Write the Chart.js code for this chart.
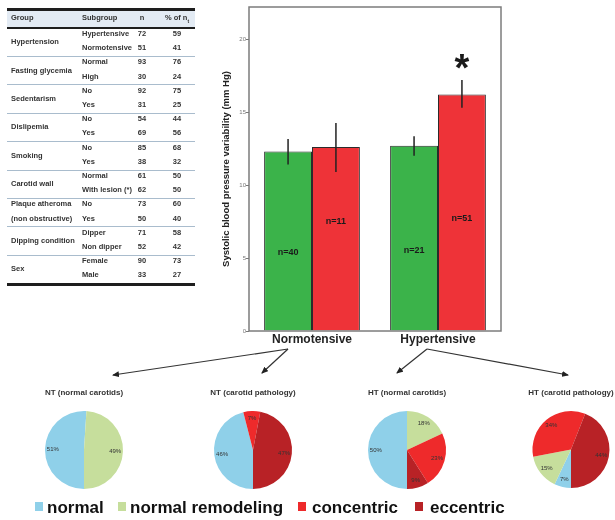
<!DOCTYPE html>
<html>
<head>
<meta charset="utf-8">
<script src="https://cdn.jsdelivr.net/npm/chart.js@4.4.1/dist/chart.umd.min.js"></script>
<style>
  body { margin: 0; width: 615px; height: 520px; position: relative; overflow: hidden; background: #fff;
         font-family: "Liberation Sans", Arial, sans-serif; }
  .abs { position: absolute; }
  #table, #legend { position: absolute; left: 0; top: 0; transform: translateZ(0); }
  .cell { position: absolute; font-size: 7.5px; font-weight: bold; color: #333; line-height: 8px; white-space: nowrap; }
  .hline { position: absolute; left: 7px; width: 188px; }
  .leg { position: absolute; top: 498px; font-size: 17px; font-weight: bold; line-height: 20px; color: #111; white-space: nowrap; }
  .sw { position: absolute; top: 502px; width: 8px; height: 9px; }
</style>
</head>
<body>
<div id="table"></div>
<canvas id="bars" class="abs" style="left:215px;top:0px" width="300" height="350"></canvas>
<svg class="abs" style="left:0;top:0" width="615" height="520">
  <defs>
    <marker id="ah" markerUnits="userSpaceOnUse" markerWidth="7" markerHeight="6" refX="6" refY="3" orient="auto">
      <path d="M0,0 L7,3 L0,6 z" fill="#222"/>
    </marker>
  </defs>
  <g stroke="#333" stroke-width="1.2" fill="none">
    <line x1="288" y1="349" x2="113" y2="375" marker-end="url(#ah)"/>
    <line x1="288" y1="349" x2="262" y2="373" marker-end="url(#ah)"/>
    <line x1="427" y1="349" x2="397" y2="373" marker-end="url(#ah)"/>
    <line x1="427" y1="349" x2="568" y2="375" marker-end="url(#ah)"/>
  </g>
</svg>
<canvas id="pie0" class="abs" style="left:9px;top:386px" width="150" height="105"></canvas>
<canvas id="pie1" class="abs" style="left:178px;top:386px" width="150" height="105"></canvas>
<canvas id="pie2" class="abs" style="left:332px;top:386px" width="150" height="105"></canvas>
<canvas id="pie3" class="abs" style="left:496px;top:386px" width="150" height="105"></canvas>
<div id="legend"></div>
<script>
Chart.defaults.font.family = '"Liberation Sans", Arial, sans-serif';

// table
const tableGroups = ['Hypertension', 'Fasting glycemia', 'Sedentarism', 'Dislipemia', 'Smoking',
  'Carotid wall', 'Plaque atheroma|(non obstructive)', 'Dipping condition', 'Sex'];
const tableSubgroups = [['Hypertensive', 'Normotensive'], ['Normal', 'High'], ['No', 'Yes'], ['No', 'Yes'],
  ['No', 'Yes'], ['Normal', 'With lesion (*)'], ['No', 'Yes'], ['Dipper', 'Non dipper'], ['Female', 'Male']];
const tableN = [[72, 51], [93, 30], [92, 31], [54, 69], [85, 38], [61, 62], [73, 50], [71, 52], [90, 33]];
const tablePct = [[59, 41], [76, 24], [75, 25], [44, 56], [68, 32], [50, 50], [60, 40], [58, 42], [73, 27]];

// bar chart
const groupLabels = ['Normotensive', 'Hypertensive'];
const normalCarotidMean = [12.3, 12.7];
const normalCarotidLow = [11.4, 12.0];
const normalCarotidHigh = [13.15, 13.35];
const normalCarotidN = ['n=40', 'n=21'];
const pathologyMean = [12.6, 16.2];
const pathologyLow = [10.9, 15.3];
const pathologyHigh = [14.25, 17.2];
const pathologyN = ['n=11', 'n=51'];
const pathologySig = ['', '*'];

// pies (percent)
const pieTitles = ['NT (normal carotids)', 'NT (carotid pathology)', 'HT (normal carotids)', 'HT (carotid pathology)'];
const patternNames = ['normal', 'normal remodeling', 'concentric', 'eccentric'];
const normalPct = [51, 46, 50, 7];
const remodelingPct = [49, 0, 18, 15];
const concentricPct = [0, 7, 23, 34];
const eccentricPct = [0, 47, 9, 44];

const pieColors = ['#8fd0e9', '#c6de9c', '#ee2a2b', '#b82226'];

// ---- table ----
const tbl = document.getElementById('table');
function addCell(text, left, top, align) {
  const d = document.createElement('div');
  d.className = 'cell';
  d.innerHTML = text;
  d.style.top = top + 'px';
  if (align === 'center') { d.style.left = (left - 20) + 'px'; d.style.width = '40px'; d.style.textAlign = 'center'; }
  else d.style.left = left + 'px';
  tbl.appendChild(d);
}
function addLine(top, h, color) {
  const d = document.createElement('div');
  d.className = 'hline';
  d.style.top = top + 'px';
  d.style.height = h + 'px';
  d.style.background = color;
  tbl.appendChild(d);
}
const rowH = 14.2, tableTop = 28;
const hdr = document.createElement('div');
hdr.className = 'hline';
hdr.style.top = '9px'; hdr.style.height = '19px'; hdr.style.background = '#e3ebf4';
tbl.appendChild(hdr);
addLine(8, 2.5, '#1e1e1e');
addLine(27, 2, '#1e1e1e');
addCell('Group', 11, 14);
addCell('Subgroup', 82, 14);
addCell('n', 142, 14, 'center');
addCell('% of n<sub style="font-size:5px">t</sub>', 177, 14, 'center');
for (let g = 0; g < tableGroups.length; ++g) {
  const gTop = tableTop + g * 2 * rowH;
  const parts = tableGroups[g].split('|');
  if (parts.length === 2) {
    addCell(parts[0], 11, gTop + 2);
    addCell(parts[1], 11, gTop + rowH + 2);
  } else {
    addCell(parts[0], 11, gTop + rowH - 4);
  }
  for (let r = 0; r < 2; ++r) {
    const t = gTop + r * rowH + 2;
    addCell(tableSubgroups[g][r], 82, t);
    addCell(tableN[g][r], 142, t, 'center');
    addCell(tablePct[g][r], 177, t, 'center');
  }
  if (g > 0) addLine(gTop - 0.5, 1, '#a9bccd');
}
addLine(tableTop + tableGroups.length * 2 * rowH - 0.5, 2.5, '#1e1e1e');

// ---- bar chart ----
const barExtras = {
  id: 'barExtras',
  afterDatasetsDraw(chart, args, opts) {
    const ctx = chart.ctx, y = chart.scales.y, a = chart.chartArea;
    ctx.save();
    chart.data.datasets.forEach((ds, di) => {
      chart.getDatasetMeta(di).data.forEach((bar, i) => {
        ctx.strokeStyle = '#222';
        ctx.lineWidth = 1.5;
        ctx.beginPath();
        ctx.moveTo(bar.x, y.getPixelForValue(ds.errLow[i]));
        ctx.lineTo(bar.x, y.getPixelForValue(ds.errHigh[i]));
        ctx.stroke();
        ctx.fillStyle = '#1a1a1a';
        ctx.font = 'bold 9px "Liberation Sans", Arial, sans-serif';
        ctx.textAlign = 'center';
        ctx.textBaseline = 'middle';
        ctx.fillText(ds.nLabels[i], bar.x, y.getPixelForValue(opts.labelY[di][i]));
        if (ds.sig && ds.sig[i]) {
          ctx.font = 'bold 38px "Liberation Sans", Arial, sans-serif';
          ctx.textBaseline = 'alphabetic';
          ctx.fillText(ds.sig[i], bar.x, y.getPixelForValue(ds.errHigh[i]) + 1);
        }
      });
    });
    ctx.strokeStyle = '#7c7c7c';
    ctx.lineWidth = 1.5;
    ctx.strokeRect(a.left, a.top, a.right - a.left, a.bottom - a.top);
    ctx.restore();
  }
};

new Chart(document.getElementById('bars'), {
  type: 'bar',
  data: {
    labels: groupLabels,
    datasets: [{
      label: 'Normal carotids',
      data: normalCarotidMean,
      errLow: normalCarotidLow,
      errHigh: normalCarotidHigh,
      nLabels: normalCarotidN,
      backgroundColor: '#3bb34a',
      borderColor: '#2b2b2b',
      borderWidth: 1,
      categoryPercentage: 0.76,
      barPercentage: 1
    }, {
      label: 'Carotid pathology',
      data: pathologyMean,
      errLow: pathologyLow,
      errHigh: pathologyHigh,
      nLabels: pathologyN,
      sig: pathologySig,
      backgroundColor: '#ee3338',
      borderColor: '#2b2b2b',
      borderWidth: 1,
      categoryPercentage: 0.76,
      barPercentage: 1
    }]
  },
  options: {
    responsive: false,
    animation: false,
    events: [],
    layout: { padding: { top: 7, right: 14, left: 0, bottom: 0 } },
    plugins: {
      legend: { display: false },
      tooltip: { enabled: false },
      barExtras: { labelY: [[5.4, 5.5], [7.5, 7.7]] }
    },
    scales: {
      x: {
        grid: { display: false, drawTicks: false },
        border: { display: false },
        ticks: { color: '#222', font: { size: 12, weight: 'bold' }, padding: 1 },
        afterFit: s => { s.height = 19; }
      },
      y: {
        min: 0,
        max: 22.2,
        afterBuildTicks: s => { s.ticks = s.ticks.filter(t => t.value % 5 === 0); },
        ticks: { stepSize: 5, color: '#777', font: { size: 6 }, padding: 0 },
        grid: { drawOnChartArea: false, drawTicks: true, tickLength: 3, color: '#777' },
        border: { display: false },
        title: {
          display: true,
          text: 'Systolic blood pressure variability (mm Hg)',
          color: '#222',
          font: { size: 9.5, weight: 'bold' },
          padding: { top: 6, bottom: 0 }
        },
        afterFit: s => { s.width = 34; }
      }
    }
  },
  plugins: [barExtras]
});

// ---- pies ----
const pctLabels = {
  id: 'pctLabels',
  afterDatasetsDraw(chart) {
    const ctx = chart.ctx;
    const vals = chart.data.datasets[0].data;
    ctx.save();
    ctx.fillStyle = '#333';
    ctx.font = '6px "Liberation Sans", Arial, sans-serif';
    ctx.textAlign = 'center';
    ctx.textBaseline = 'middle';
    chart.getDatasetMeta(0).data.forEach((arc, i) => {
      if (!vals[i]) return;
      const mid = (arc.startAngle + arc.endAngle) / 2;
      const r = arc.outerRadius * 0.8;
      ctx.fillText(vals[i] + '%', arc.x + Math.cos(mid) * r, arc.y + Math.sin(mid) * r);
    });
    ctx.restore();
  }
};

for (let i = 0; i < pieTitles.length; ++i) {
  new Chart(document.getElementById('pie' + i), {
    type: 'pie',
    data: {
      labels: patternNames,
      datasets: [{
        data: [normalPct[i], remodelingPct[i], concentricPct[i], eccentricPct[i]],
        backgroundColor: pieColors,
        borderWidth: 0
      }]
    },
    options: {
      responsive: false,
      animation: false,
      events: [],
      rotation: 180,
      layout: { padding: { bottom: i === 3 ? 3 : 2 } },
      plugins: {
        legend: { display: false },
        tooltip: { enabled: false },
        title: {
          display: true,
          text: pieTitles[i],
          color: '#333',
          font: { size: 8, weight: 'bold' },
          padding: { top: 2, bottom: 13.4 }
        }
      }
    },
    plugins: [pctLabels]
  });
}

// ---- legend ----
const legendSwatchX = [35, 118, 298, 415];
const legendTextX = [47, 130, 312, 430];
const leg = document.getElementById('legend');
patternNames.forEach((name, i) => {
  const sw = document.createElement('div');
  sw.className = 'sw';
  sw.style.left = legendSwatchX[i] + 'px';
  sw.style.background = pieColors[i];
  leg.appendChild(sw);
  const t = document.createElement('div');
  t.className = 'leg';
  t.style.left = legendTextX[i] + 'px';
  t.textContent = name;
  leg.appendChild(t);
});
</script>
</body>
</html>
